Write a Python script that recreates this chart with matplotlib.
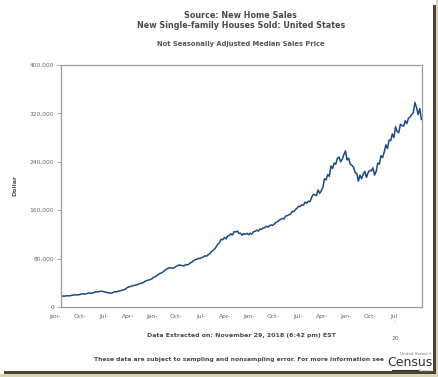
import matplotlib
matplotlib.use("Agg")
import matplotlib.pyplot as plt
import matplotlib.transforms as mtransforms
from matplotlib.patches import Rectangle
import numpy as np

# ---- data (quarterly median sales price, Q1 1963 .. Q3 2018, plus Oct 2018) ----
start_year = 1963
prices = [
    17800, 18000, 17900, 18500,
    18500, 18500, 18900, 19400,
    20200, 19800, 20200, 20300,
    21000, 22100, 21500, 21400,
    22300, 23300, 22500, 23100,
    23500, 25000, 24800, 25300,
    25800, 26000, 25500, 24900,
    24100, 23800, 23000, 22800,
    23900, 25200, 25000, 25700,
    26400, 27200, 28000, 28600,
    30200, 32500, 33200, 34100,
    35200, 35600, 36200, 37000,
    38000, 39000, 39500, 40800,
    42600, 44000, 44400, 45500,
    46500, 48900, 49600, 51600,
    53600, 55500, 56200, 58100,
    60300, 62500, 63600, 65000,
    64500, 64200, 64800, 67200,
    68200, 69500, 69000, 68400,
    67800, 70200, 69700, 70800,
    73000, 74500, 76500, 78500,
    78800, 80500, 80200, 81600,
    82800, 84700, 84000, 86500,
    88200, 91500, 93500, 95800,
    99800, 104000, 106500, 112000,
    111000, 115000, 112500, 117500,
    118000, 121000, 119000, 124500,
    124000, 125500, 121500, 122000,
    118500, 121500, 120000, 121800,
    119500, 122000, 120500, 124500,
    125000, 127000, 125500, 129000,
    128500, 130500, 131000, 133500,
    132000, 134500, 135500, 135000,
    137500, 140000, 141000, 143500,
    145000, 146500, 145500, 150500,
    151000, 152500, 153500, 158000,
    157500, 161000, 163500, 166500,
    166000, 169000, 168500, 173500,
    171500, 175000, 174000, 181000,
    186000, 185500, 184000, 193500,
    188000, 192000, 197500, 212000,
    210000, 219000, 216000, 233000,
    229000, 238000, 236000, 246000,
    248000, 240000, 244000, 252000,
    258000, 243000, 246000, 236000,
    234000, 231000, 222000, 221000,
    208000, 218000, 212000, 220000,
    224000, 214000, 222000, 226000,
    225000, 230000, 218000, 224000,
    238000, 236000, 250000, 247000,
    256000, 268000, 262000, 276000,
    275000, 286000, 280000, 298000,
    290000, 288000, 302000, 300000,
    299000, 308000, 303000, 312000,
    314000, 318000, 321000, 338000,
    330000, 318000, 328000,
]
last_month_price = 310000   # Oct 2018

x_tick_labels = ['Jan-', 'Oct-', 'Jul-', 'Apr-', 'Jan-', 'Oct-', 'Jul-', 'Apr-',
                 'Jan-', 'Oct-', 'Jul-', 'Apr-', 'Jan-', 'Oct-', 'Jul\n-']
y_ticks = [0, 80000, 160000, 240000, 320000, 400000]
y_tick_labels = ['0', '80,000', '160,000', '240,000', '320,000', '400,000']

# ---- figure ----
W, H = 439, 377
fig = plt.figure(figsize=(W / 100, H / 100), dpi=100)
fig.patch.set_facecolor('white')
plt.rcParams['font.family'] = ['DejaVu Sans']

# screenshot frame / shadow
fig.patches.append(Rectangle((436 / W, 0), 3 / W, 1, transform=fig.transFigure,
                             facecolor='#dcd3bd', edgecolor='none', zorder=0))
fig.patches.append(Rectangle((0, 0), 1, 3 / H, transform=fig.transFigure,
                             facecolor='#dcd3bd', edgecolor='none', zorder=0))
fig.patches.append(Rectangle((433 / W, 3 / H), 3 / W, 1 - 8 / H, transform=fig.transFigure,
                             facecolor='#4a4438', edgecolor='none', zorder=1))
fig.patches.append(Rectangle((4 / W, 3 / H), 432 / W, 3 / H, transform=fig.transFigure,
                             facecolor='#4a4438', edgecolor='none', zorder=1))

ax = fig.add_axes([61 / W, 1 - 307 / H, (422 - 61) / W, (307 - 65) / H])

xs = [start_year + i / 4 for i in range(len(prices))] + [2018 + 9 / 12]
ys = prices + [last_month_price]
ax.plot(xs, ys, color='#1d4a82', lw=1.1, solid_joinstyle='round')

ax.set_xlim(1962.95, 2018.85)
ax.set_ylim(0, 400000)

xticks = [start_year + k * 3.75 for k in range(len(x_tick_labels))]
ax.set_xticks(xticks)
ax.set_xticklabels(x_tick_labels, fontsize=4.3, color='#666666', linespacing=1.0)
ax.tick_params(axis='x', length=0, pad=5)
off = mtransforms.ScaledTranslation(-6 / 100, 0, fig.dpi_scale_trans)
for lab in ax.get_xticklabels():
    lab.set_transform(lab.get_transform() + off)
    lab.set_verticalalignment('top')

ax.set_yticks(y_ticks)
ax.set_yticklabels(y_tick_labels, fontsize=4.3, color='#666666')
ax.tick_params(axis='y', length=3, width=0.6, color='#999999', pad=2)

for s in ax.spines.values():
    s.set_color('#9a9a9a')
    s.set_linewidth(0.9)

ax.set_ylabel('Dollar', fontsize=4.5, fontweight='bold', color='#555555', labelpad=0)
ax.yaxis.set_label_coords(-0.12, 0.5)

# titles
tc = '#4a4a4a'
fig.text(240 / W, 1 - 15 / H, 'Source: New Home Sales', ha='center', va='center',
         fontsize=5.75, fontweight='bold', color=tc)
fig.text(241 / W, 1 - 26 / H, 'New Single-family Houses Sold: United States', ha='center',
         va='center', fontsize=5.75, fontweight='bold', color=tc)
fig.text(241 / W, 1 - 44 / H, 'Not Seasonally Adjusted Median Sales Price', ha='center',
         va='center', fontsize=4.9, fontweight='bold', color='#555555')

fig.text(395 / W, 1 - 339 / H, '20', ha='center', va='center', fontsize=4.3, color='#666666')

fig.text(241 / W, 1 - 335 / H, 'Data Extracted on: November 29, 2018 (6:42 pm) EST',
         ha='center', va='center', fontsize=4.5, fontweight='bold', color=tc)
fig.text(239 / W, 1 - 360 / H,
         'These data are subject to sampling and nonsampling error. For more information see',
         ha='center', va='center', fontsize=4.3, fontweight='bold', color=tc)

# Census logo
fig.text(432 / W, 1 - 354 / H, 'United States\u00ae', ha='right', va='center',
         fontsize=3.0, color='#777777')
fig.text(433 / W, 1 - 363 / H, 'Census', ha='right', va='center', fontsize=9.0,
         color='#333333', family=['Liberation Sans Narrow', 'DejaVu Sans'])
fig.lines.append(plt.Line2D([392 / W, 418 / W], [1 - 370 / H, 1 - 370 / H],
                            transform=fig.transFigure, color='#333333', lw=0.8))
fig.text(432 / W, 1 - 370.5 / H, 'Bureau', ha='right', va='center', fontsize=2.6,
         color='#777777')

fig.savefig('out.png', dpi=100)
